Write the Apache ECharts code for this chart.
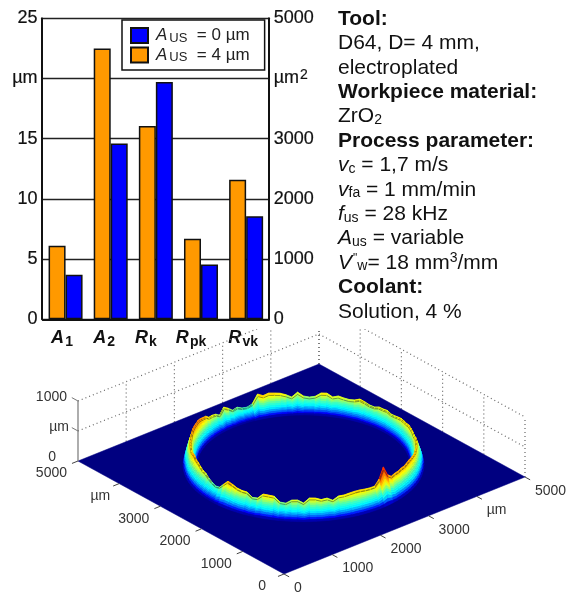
<!DOCTYPE html>
<html>
<head>
<meta charset="utf-8">
<style>html,body{margin:0;padding:0;background:#fff}#chart{width:567px;height:593px}</style>
<script src="https://cdn.jsdelivr.net/npm/echarts@6/dist/echarts.min.js"></script>
</head>
<body>
<div id="chart"></div>
<script>
// ---- bar chart data (left-axis units)
const categories = ['A1', 'A2', 'Rk', 'Rpk', 'Rvk'];
const values4um = [6.1, 22.5, 16.05, 6.7, 11.6];
const values0um = [3.7, 14.6, 19.7, 4.55, 8.55];
const leftTickLabels = ['0', '5', '10', '15', 'µm', '25'];
const rightTickLabels = ['0', '1000', '2000', '3000', 'µm{sup|2}', '5000'];
const seriesNames = ['AUS = 0 µm', 'AUS = 4 µm'];

// ---- 3D plot data: crest height of the ring (µm), one value per 3° around the ring,
// starting at the right-hand end and running through the back, left and front.
const ringCrest = [
  333,350,367,328,317,333,343,350,333,333,333,317,300,293,317,308,310,280,283,310,
  333,297,283,292,310,280,333,328,267,250,267,333,255,300,333,347,360,333,377,233,
  200,210,250,230,293,342,242,293,313,317,375,392,417,433,427,433,433,412,375,367,
  367,367,342,350,383,400,367,367,343,317,308,267,233,207,225,308,390,367,333,317,
  317,250,257,342,340,333,247,238,295,300,250,333,328,297,313,267,323,325,340,350,
  350,340,333,333,420,592,430,367,383,380,392,383,393,400,390,378,367,350,358,347
];
const ringRadius = [1680,1688,1696,1704,1712,1720,1728,1736,1744,1752,1760,1770,1780,1790,1800,1810,1820,1830,1840,1850,1860,1870,1880,1890,1900];
const ringShare  = [0,.08,.16,.24,.32,.40,.48,.56,.64,.72,.80,.90,1,.92,.84,.76,.68,.60,.52,.44,.36,.27,.18,.09,0];
const contourRows = [11, 13];
const floorTicks = [0, 1000, 2000, 3000, 4000, 5000];
const floorTickLabels = ['0', '1000', '2000', '3000', 'µm', '5000'];
const heightTicks = [0, 500, 1000];
const heightTickLabels = ['0', 'µm', '1000'];
// height (µm) -> position on the jet colour map
const colourHeights = [0, 60, 130, 200, 260, 310, 400, 600];
const colourLevels  = [0, .20, .36, .44, .55, .63, .74, .95];

// ---- text block
const infoLines = [
  '{b|Tool:}',
  'D64, D= 4 mm,',
  'electroplated',
  '{b|Workpiece material:}',
  'ZrO{s|2}',
  '{b|Process parameter:}',
  '{i|v}{s|c} = 1,7 m/s',
  '{i|v}{s|fa} = 1 mm/min',
  '{i|f}{s|us} = 28 kHz',
  '{i|A}{s|us} = variable',
  '{i|V}{q|"}{s|w}= 18 mm{u|3}/mm',
  '{b|Coolant:}',
  'Solution, 4 %'
];

// ---- projection of the 3D box onto the page
const FONT = '"Liberation Sans", Arial, sans-serif';
const origin = [284, 574], uEdge = [241, -97], vEdge = [-206, -113], zPx = 60;
const ringCentre = [2610, 2580], ringTurn = -40.5;
function project(u, v, z) {
  return [origin[0] + u / 5000 * uEdge[0] + v / 5000 * vEdge[0],
          origin[1] + u / 5000 * uEdge[1] + v / 5000 * vEdge[1] - (z || 0) / 1000 * zPx];
}
function ringPoint(i, j) {
  const n = ringCrest.length, k = (i + n) % n;
  const a = (k * 3 + ringTurn) * Math.PI / 180, r = ringRadius[j];
  return project(ringCentre[0] + r * Math.cos(a), ringCentre[1] + r * Math.sin(a), ringCrest[k] * ringShare[j]);
}
function jet(v) {
  v = Math.max(0, Math.min(1, v));
  const c = x => Math.round(255 * Math.max(0, Math.min(1, 1.5 - Math.abs(4 * v - x))));
  return 'rgb(' + c(3) + ',' + c(2) + ',' + c(1) + ')';
}
function levelOf(z) {
  for (let i = 1; i < colourHeights.length; i++) {
    if (z <= colourHeights[i]) {
      const t = (z - colourHeights[i - 1]) / (colourHeights[i] - colourHeights[i - 1]);
      return colourLevels[i - 1] + t * (colourLevels[i] - colourLevels[i - 1]);
    }
  }
  return colourLevels[colourLevels.length - 1];
}

// surface cells, painted from the back of the floor to the front
const cells = [];
ringCrest.forEach(function (_, i) {
  const n = ringCrest.length, a = ((i + .5) * 3 + ringTurn) * Math.PI / 180;
  for (let j = 0; j < ringRadius.length - 1; j++) {
    const p = [ringPoint(i, j), ringPoint(i + 1, j), ringPoint(i + 1, j + 1), ringPoint(i, j + 1)];
    const r = (ringRadius[j] + ringRadius[j + 1]) / 2;
    const key = project(ringCentre[0] + r * Math.cos(a), ringCentre[1] + r * Math.sin(a), 0)[1];
    const z = (ringCrest[i] + ringCrest[(i + 1) % n]) / 2 * (ringShare[j] + ringShare[j + 1]) / 2;
    cells.push({ key: key, pts: p, color: jet(levelOf(z)) });
  }
  contourRows.forEach(function (j) {
    const r = ringRadius[j];
    cells.push({ key: project(ringCentre[0] + r * Math.cos(a), ringCentre[1] + r * Math.sin(a), 0)[1] + .4,
                 line: true, pts: [ringPoint(i, j), ringPoint(i + 1, j)] });
  });
});
cells.sort((a, b) => a.key - b.key);

// dotted back walls
const wallLines = [];
floorTicks.forEach(function (t) {
  if (t > 0) wallLines.push([[t, 5000, 0], [t, 5000, 1000]]);
  wallLines.push([[5000, t, 0], [5000, t, 1000]]);
});
[500, 1000].forEach(function (z) {
  wallLines.push([[0, 5000, z], [5000, 5000, z]]);
  wallLines.push([[5000, 5000, z], [5000, 0, z]]);
});

// axis furniture of the 3D box
const furniture = [];
const solid = (a, b, c, w) => furniture.push({ pts: [a, b], color: c, width: w });
floorTicks.forEach(function (t, i) {
  const a = project(0, t, 0), b = project(t, 0, 0);
  solid(a, project(-125, t, 0), '#444', 1);
  solid(b, project(t, -125, 0), '#444', 1);
  const shift = floorTickLabels[i] === '0' ? -18 : (floorTickLabels[i] === 'µm' ? -9 : -11);
  furniture.push({ text: floorTickLabels[i], at: [a[0] + shift, a[1] + 12.5], align: 'right' });
  furniture.push({ text: floorTickLabels[i], at: [b[0] + 10, b[1] + 14], align: 'left' });
});
solid(project(0, 5000, 0), project(0, 5000, 1000), '#777', 1.2);
heightTicks.forEach(function (z, i) {
  const a = project(0, 5000, z);
  if (z > 0) solid(a, project(0, 5150, z), '#777', 1);
  const dx = z === 0 ? -22 : (z === 500 ? -9 : -11);
  furniture.push({ text: heightTickLabels[i], at: [a[0] + dx, a[1] - 4], align: 'right' });
});

// ---- axis label helpers
function catLabel(name, idx) {
  return '{i|' + name.charAt(0) + '}{g| }{s|' + name.slice(1) + '}{p' + idx + '| }';
}
const catRich = {
  i: { fontFamily: FONT, fontSize: 18, fontWeight: 'bold', fontStyle: 'italic', color: '#111' },
  g: { fontFamily: FONT, fontSize: 4 },
  s: { fontFamily: FONT, fontSize: 14, fontWeight: 'bold', color: '#111', padding: [8, 0, 0, 0] }
};
[7, 13, 20, 20, 6].forEach((w, i) => { catRich['p' + i] = { width: w, fontSize: 4 }; });

const legendRich = {
  l: { width: 3, fontSize: 4 },
  i: { fontFamily: FONT, fontSize: 17, fontStyle: 'italic', color: '#222' },
  s: { fontFamily: FONT, fontSize: 13, color: '#222', padding: [5, 0, 0, 2] },
  t: { fontFamily: FONT, fontSize: 17, color: '#222' }
};
const tickText = { margin: 5, fontFamily: FONT, fontSize: 18, color: '#111', textBorderColor: '#111', textBorderWidth: .2 };

const chart = echarts.init(document.getElementById('chart'), null, { renderer: 'canvas' });
chart.setOption({
  animation: false,
  backgroundColor: '#fff',
  legend: {
    data: seriesNames, orient: 'vertical', left: 122, top: 20, padding: [7, 15, 6, 8],
    itemWidth: 17, itemHeight: 15, itemGap: 2, selectedMode: false,
    backgroundColor: '#fff', borderColor: '#111', borderWidth: 1.5, borderRadius: 0,
    icon: 'rect',
    formatter: name => '{l| }{i|A}{s|US}{t| \u00a0= ' + name.slice(6) + '}',
    textStyle: { rich: legendRich }
  },
  grid: [
    { left: 43, top: 18.3, width: 225.7, height: 301 },
    { left: 0, top: 329, width: 567, height: 264 }
  ],
  xAxis: [
    { type: 'category', gridIndex: 0, data: categories,
      axisLine: { lineStyle: { color: '#111', width: 2 } }, axisTick: { show: false },
      axisLabel: { margin: 8, formatter: catLabel, rich: catRich, interval: 0 } },
    { type: 'category', gridIndex: 0, position: 'top', data: categories,
      axisLine: { lineStyle: { color: '#111', width: 2 } }, axisTick: { show: false }, axisLabel: { show: false } },
    { type: 'value', gridIndex: 1, min: 0, max: 567, show: false }
  ],
  yAxis: [
    { type: 'value', gridIndex: 0, min: 0, max: 25, interval: 5, offset: 1.5,
      axisLine: { show: true, lineStyle: { color: '#111', width: 2 } }, axisTick: { show: false },
      axisLabel: Object.assign({}, tickText, { margin: 4, formatter: v => leftTickLabels[v / 5] }),
      splitLine: { show: true, lineStyle: { color: '#222', width: 1.4 } } },
    { type: 'value', gridIndex: 0, min: 0, max: 5000, interval: 1000, position: 'right',
      axisLine: { show: true, lineStyle: { color: '#111', width: 2 } }, axisTick: { show: false },
      axisLabel: Object.assign({}, tickText, { formatter: v => rightTickLabels[v / 1000],
        rich: { sup: { fontFamily: FONT, fontSize: 14, color: '#111', padding: [0, 0, 7, 1] } } }),
      splitLine: { show: false } },
    { type: 'value', gridIndex: 1, min: 329, max: 593, inverse: true, show: false }
  ],
  graphic: infoLines.map((line, i) => ({
    type: 'text', x: 338, y: 19 + i * 24.4,
    style: {
      text: line, fill: '#111', verticalAlign: 'middle',
      font: '21px ' + FONT,
      rich: {
        b: { fontFamily: FONT, fontSize: 21, fontWeight: 'bold', fill: '#111' },
        i: { fontFamily: FONT, fontSize: 21, fontStyle: 'italic', fill: '#111' },
        s: { fontFamily: FONT, fontSize: 14, fill: '#111', padding: [7, 0, 0, 0] },
        u: { fontFamily: FONT, fontSize: 14, fill: '#111', padding: [0, 0, 9, 0] },
        q: { fontFamily: FONT, fontSize: 12, fill: '#111', padding: [0, 0, 8, 1] }
      }
    }
  })),
  series: [
    { type: 'bar', name: seriesNames[1], xAxisIndex: 0, yAxisIndex: 0, data: values4um, barWidth: 17, barGap: 0,
      itemStyle: { color: '#FF9900', borderColor: '#111', borderWidth: 1.5 } },
    { type: 'bar', name: seriesNames[0], xAxisIndex: 0, yAxisIndex: 0, data: values0um, barWidth: 17, barGap: 0,
      itemStyle: { color: '#0000FF', borderColor: '#111', borderWidth: 1.5 } },
    { type: 'custom', name: 'walls', xAxisIndex: 2, yAxisIndex: 2, clip: true, silent: true, progressive: 0, z: 1,
      data: wallLines.map((_, i) => [i]),
      renderItem: function (params, api) {
        const w = wallLines[params.dataIndex];
        const a = api.coord(project(w[0][0], w[0][1], w[0][2])), b = api.coord(project(w[1][0], w[1][1], w[1][2]));
        return { type: 'line', shape: { x1: a[0], y1: a[1], x2: b[0], y2: b[1] },
                 style: { stroke: '#666', lineWidth: 1.2, lineDash: [1, 3] } };
      } },
    { type: 'custom', name: 'floor', xAxisIndex: 2, yAxisIndex: 2, clip: false, silent: true, progressive: 0, z: 2,
      data: [[0]],
      renderItem: function (params, api) {
        const pts = [[0, 0], [5000, 0], [5000, 5000], [0, 5000]].map(c => api.coord(project(c[0], c[1], 0)));
        return { type: 'polygon', shape: { points: pts }, style: { fill: jet(0), stroke: jet(0), lineWidth: .5 } };
      } },
    { type: 'custom', name: 'ring', xAxisIndex: 2, yAxisIndex: 2, clip: false, silent: true, progressive: 0, z: 3,
      data: cells.map((_, i) => [i]),
      renderItem: function (params, api) {
        const c = cells[params.dataIndex], pts = c.pts.map(p => api.coord(p));
        if (c.line) return { type: 'line', shape: { x1: pts[0][0], y1: pts[0][1], x2: pts[1][0], y2: pts[1][1] },
                             style: { stroke: 'rgba(20,20,20,.7)', lineWidth: .6 } };
        return { type: 'polygon', shape: { points: pts }, style: { fill: c.color, stroke: c.color, lineWidth: .5 } };
      } },
    { type: 'custom', name: 'boxAxes', xAxisIndex: 2, yAxisIndex: 2, clip: false, silent: true, progressive: 0, z: 4,
      data: furniture.map((_, i) => [i]),
      renderItem: function (params, api) {
        const f = furniture[params.dataIndex];
        if (f.text !== undefined) {
          const p = api.coord(f.at);
          return { type: 'text', x: p[0], y: p[1],
                   style: { text: f.text, fill: '#333', font: '14px ' + FONT, align: f.align, verticalAlign: 'middle' } };
        }
        const a = api.coord(f.pts[0]), b = api.coord(f.pts[1]);
        return { type: 'line', shape: { x1: a[0], y1: a[1], x2: b[0], y2: b[1] }, style: { stroke: f.color, lineWidth: f.width } };
      } }
  ]
});
</script>
</body>
</html>
